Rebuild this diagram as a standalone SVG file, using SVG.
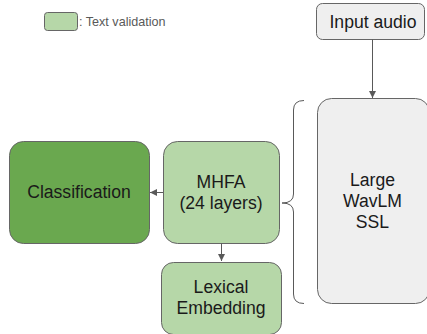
<svg xmlns="http://www.w3.org/2000/svg" width="427" height="334" viewBox="0 0 427 334">
<defs>
<marker id="ah" markerWidth="8" markerHeight="8" refX="7" refY="4" orient="auto" markerUnits="userSpaceOnUse">
<path d="M0,0.5 L7,4 L0,7.5 Z" fill="#595959"/>
</marker>
<style>
.box{stroke:#666;stroke-width:1}
.t{font-family:"Liberation Sans",Arial,sans-serif;font-size:17.6px;fill:#1a1a1a;text-anchor:middle}
.conn{stroke:#595959;stroke-width:1;fill:none}
</style>
</defs>
<rect width="427" height="334" fill="#fff"/>
<g id="legend">
<rect x="44.5" y="12.5" width="33" height="18" rx="3" fill="#b6d7a8" stroke="#666"/>
<text x="79" y="26" font-family="Liberation Sans,Arial,sans-serif" font-size="12.6" fill="#595959">: Text validation</text>
</g>
<g id="input-audio">
<rect class="box" x="316.5" y="3.5" width="108" height="36" rx="6" fill="#efefef"/>
<text class="t" x="373" y="28">Input audio</text>
</g>
<g id="wavlm">
<rect class="box" x="317.5" y="98.5" width="112" height="205" rx="14" fill="#efefef"/>
<text class="t" x="372.5" y="186">Large</text>
<text class="t" x="372.5" y="207">WavLM</text>
<text class="t" x="372.5" y="228">SSL</text>
</g>
<g id="classification">
<rect class="box" x="9.5" y="141.5" width="140" height="102" rx="14" fill="#6aa84f"/>
<text class="t" x="79" y="198">Classification</text>
</g>
<g id="mhfa">
<rect class="box" x="163.5" y="141.5" width="116" height="102" rx="14" fill="#b6d7a8"/>
<text class="t" x="221" y="188">MHFA</text>
<text class="t" x="221" y="208.5">(24 layers)</text>
</g>
<g id="lexical">
<rect class="box" x="161.5" y="262.5" width="120" height="72" rx="12" fill="#b6d7a8"/>
<text class="t" x="221" y="293">Lexical</text>
<text class="t" x="221" y="313.5">Embedding</text>
</g>
<g id="connectors">
<line class="conn" x1="372.5" y1="39.5" x2="372.5" y2="98" marker-end="url(#ah)"/>
<line class="conn" x1="163" y1="192.5" x2="150" y2="192.5" marker-end="url(#ah)"/>
<line class="conn" x1="221.5" y1="243.5" x2="221.5" y2="261" marker-end="url(#ah)"/>
<path class="conn" d="M304,100.5 Q293.5,100.5 293.5,110 L293.5,194 Q293.5,203 282,203 Q293.5,203 293.5,212 L293.5,294 Q293.5,303.5 304,303.5"/>
</g>
</svg>
